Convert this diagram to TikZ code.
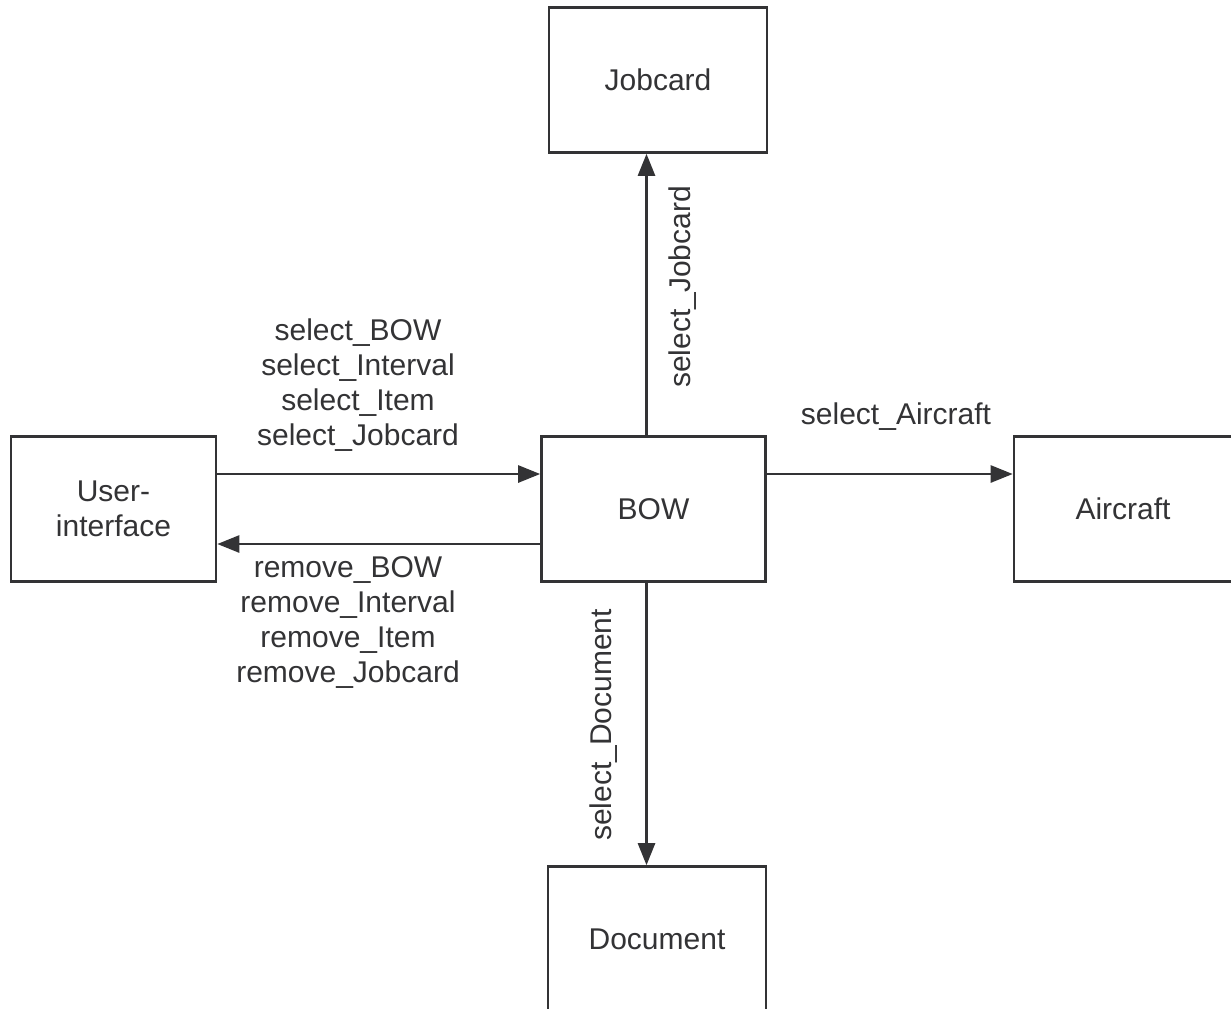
\documentclass[tikz,border=0pt]{standalone}
\usepackage{fontspec}
\setmainfont{Liberation Sans}
\usetikzlibrary{arrows.meta}
\definecolor{ink}{RGB}{51,51,53}
\begin{document}
\begin{tikzpicture}[x=0.5pt, y=-0.5pt, line width=1.3pt, draw=ink,
        block/.style={rectangle, draw=ink, line width=1.3pt, minimum width=109pt, minimum height=72.5pt, align=center},
        lbl/.style={align=center},
        flow/.style={draw=ink, -{Triangle[length=11pt, width=8.5pt]}},
        every node/.style={text=ink, font=\fontsize{15}{17.5}\selectfont}]
        \useasboundingbox (0, 0) rectangle (1231, 1008);

        \node[block] at (658, 80) (jobcard) {Jobcard};
        \node[block, minimum width=102.5pt] at (113.5, 509) (ui) {User-\\interface};
        \node[block, minimum width=112pt] at (653.5, 509) (bow) {BOW};
        \node[block] at (1123, 509) (aircraft) {Aircraft};
        \node[block] at (657, 939) (document) {Document};

        \node[lbl] at (358, 385) (selgrp) {select\_BOW\\select\_Interval\\select\_Item\\select\_Jobcard};
        \node[lbl] at (348, 622) (remgrp) {remove\_BOW\\remove\_Interval\\remove\_Item\\remove\_Jobcard};
        \node[lbl] at (896, 417) (selac) {select\_Aircraft};
        \node[lbl, rotate=90] at (683, 287) (seljc) {select\_Jobcard};
        \node[lbl, rotate=90] at (604, 725) (seldoc) {select\_Document};

        \draw[flow] ([yshift=17.5pt]ui.east) -- ([yshift=17.5pt]bow.west);
        \draw[flow] ([yshift=-17.5pt]bow.west) -- ([yshift=-17.5pt]ui.east);
        \draw[flow] ([yshift=17.5pt]bow.east) -- ([yshift=17.5pt]aircraft.west);
        \draw[flow] ([xshift=-3.5pt]bow.north) -- ([xshift=-3.5pt]bow.north |- jobcard.south);
        \draw[flow] ([xshift=-3.5pt]bow.south) -- ([xshift=-3.5pt]bow.south |- document.north);
        \end{tikzpicture}
\end{document}
